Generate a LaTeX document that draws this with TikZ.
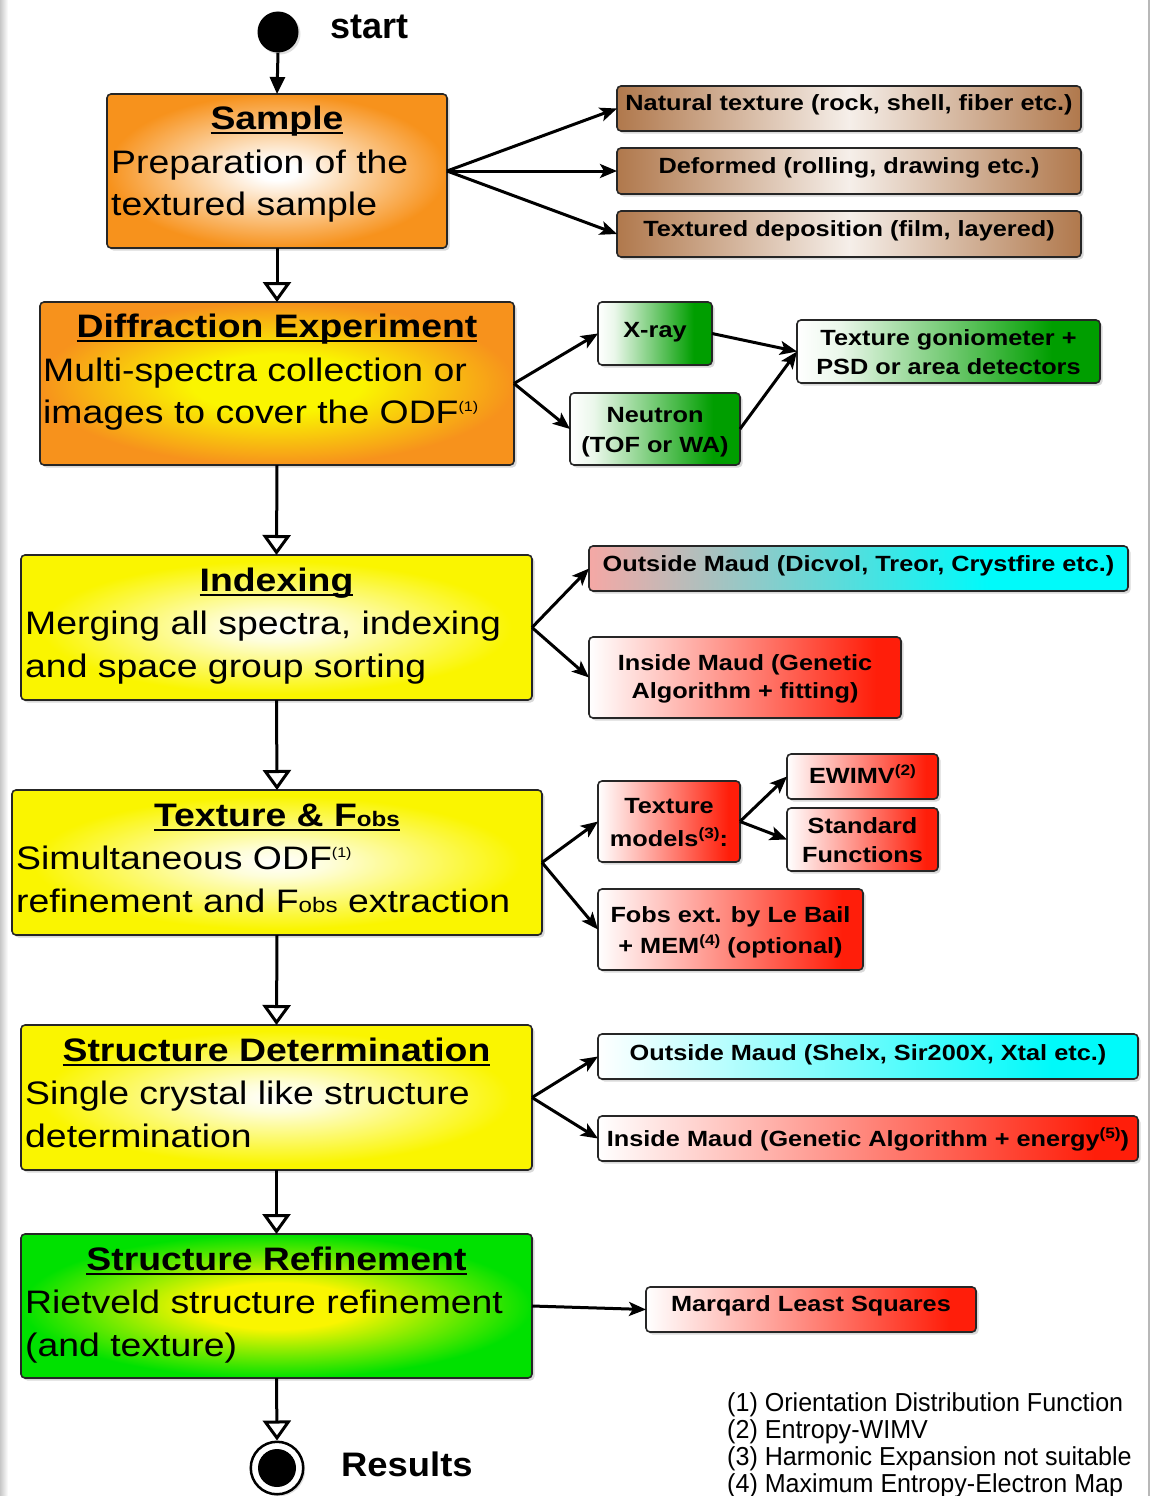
\documentclass[tikz,border=0pt]{standalone}
\usepackage{fontspec}
\setmainfont{Liberation Sans}
\newfontfamily\wideF[FakeStretch=1.15]{Liberation Sans}
\newfontfamily\midF[FakeStretch=1.07]{Liberation Sans}
\newfontfamily\footF[FakeStretch=0.965]{Liberation Sans}
\usetikzlibrary{arrows.meta,shadows,fit}

\definecolor{cOrange}{RGB}{247,146,28}
\definecolor{cYellow}{RGB}{250,245,0}
\definecolor{cGreen}{RGB}{0,225,0}
\definecolor{cDGreen}{RGB}{0,158,0}
\definecolor{cRed}{RGB}{255,30,10}
\definecolor{cCyan}{RGB}{0,250,250}
\definecolor{cBrown}{RGB}{176,120,76}
\definecolor{cPink}{RGB}{245,168,165}

\pgfdeclareradialshading{shSample}{\pgfpointorigin}{color(0bp)=(white); color(3bp)=(white); color(25bp)=(cOrange); color(50bp)=(cOrange)}
\pgfdeclareradialshading{shDiff}{\pgfpointorigin}{color(0bp)=(cYellow); color(9bp)=(cYellow); color(25bp)=(cOrange); color(50bp)=(cOrange)}
\pgfdeclareradialshading{shYel}{\pgfpointorigin}{color(0bp)=(white); color(5bp)=(white!85!cYellow); color(23bp)=(cYellow); color(50bp)=(cYellow)}
\pgfdeclareradialshading{shSR}{\pgfpointorigin}{color(0bp)=(cYellow); color(8bp)=(cYellow); color(25bp)=(cGreen); color(50bp)=(cGreen)}
\pgfdeclarehorizontalshading{shBrown}{100bp}{color(0bp)=(cBrown); color(25bp)=(cBrown); color(50bp)=(white!88!cBrown); color(75bp)=(cBrown); color(100bp)=(cBrown)}
\pgfdeclarehorizontalshading{shGreen}{100bp}{color(0bp)=(white); color(25bp)=(white); color(32bp)=(white!92!cDGreen); color(67bp)=(cDGreen); color(100bp)=(cDGreen)}
\pgfdeclarehorizontalshading{shRed}{100bp}{color(0bp)=(white); color(25bp)=(white); color(71bp)=(cRed); color(100bp)=(cRed)}
\pgfdeclarehorizontalshading{shCyan}{100bp}{color(0bp)=(white); color(25bp)=(white); color(67bp)=(cCyan); color(100bp)=(cCyan)}
\pgfdeclarehorizontalshading{shPinkCyan}{100bp}{color(0bp)=(cPink); color(25bp)=(cPink); color(62bp)=(cCyan); color(100bp)=(cCyan)}

\newcommand\myul[1]{\setbox0=\hbox{#1}\rlap{\rule[-4.8pt]{\wd0}{2.2pt}}\box0}
\newcommand\supA[1]{\raisebox{12pt}{\fontsize{14}{14}\selectfont(#1)}}
\newcommand\supB[1]{\raisebox{8pt}{\fontsize{15}{15}\selectfont(#1)}}

\begin{document}
\begin{tikzpicture}[x=1pt,y=-1pt,
  box/.style={draw=black!85, line width=1.6pt, rounded corners=4pt, inner sep=0pt, outer sep=0pt, shade,
    drop shadow={shadow xshift=2.5pt, shadow yshift=-2.5pt, opacity=0.3}},
  head/.style={font=\wideF\bfseries\fontsize{32.5}{40}\selectfont, inner sep=0pt, anchor=base},
  body/.style={font=\wideF\fontsize{32.5}{40}\selectfont, inner sep=0pt, anchor=base west},
  side/.style={font=\wideF\bfseries\fontsize{22}{28}\selectfont, inner sep=0pt, anchor=base},
  foot/.style={font=\footF\fontsize{26}{30}\selectfont, inner sep=0pt, anchor=base west},
  sarr/.style={line width=3pt, -{Stealth[length=17pt,width=14pt,inset=4pt]}},
  tarr/.style={line width=3pt, -{Triangle[length=17pt,width=15pt]}},
  harr/.style={line width=3pt, -{Triangle[fill=white,length=20pt,width=28pt]}}
]
\useasboundingbox (0,0) rectangle (1151,1496);
\shade[left color=black!22, right color=white] (0,0) rectangle (8,1496);
\fill[black!28] (1148,0) rectangle (1150,1496);

% main boxes
\node[box, shading=shSample, fit={(107,94)(447,248)}] (sample) {};
\node[box, shading=shDiff, fit={(40,302)(514,465)}] (diff) {};
\node[box, shading=shYel, fit={(21,555)(532,700)}] (index) {};
\node[box, shading=shYel, fit={(12,790)(542,935)}] (texture) {};
\node[box, shading=shYel, fit={(21,1025)(532,1170)}] (sd) {};
\node[box, shading=shSR, fit={(21,1234)(532,1378)}] (sr) {};

% side boxes
\node[box, shading=shBrown, fit={(617,86)(1081,131)}] (nat) {};
\node[box, shading=shBrown, fit={(617,148)(1081,194)}] (def) {};
\node[box, shading=shBrown, fit={(617,211)(1081,257)}] (dep) {};
\node[box, shading=shGreen, fit={(598,302)(712,365)}] (xray) {};
\node[box, shading=shGreen, fit={(570,393)(740,465)}] (neutron) {};
\node[box, shading=shGreen, fit={(797,320)(1100,383)}] (gonio) {};
\node[box, shading=shPinkCyan, fit={(589,546)(1128,591)}] (dicvol) {};
\node[box, shading=shRed, fit={(589,637)(901,718)}] (insideI) {};
\node[box, shading=shRed, fit={(598,781)(740,862)}] (tm) {};
\node[box, shading=shRed, fit={(787,754)(938,799)}] (ewimv) {};
\node[box, shading=shRed, fit={(787,808)(938,871)}] (std) {};
\node[box, shading=shRed, fit={(598,889)(863,970)}] (fobs) {};
\node[box, shading=shCyan, fit={(598,1034)(1138,1079)}] (shelx) {};
\node[box, shading=shRed, fit={(598,1116)(1138,1161)}] (insideE) {};
\node[box, shading=shRed, fit={(646,1287)(976,1332)}] (marq) {};

% start and end
\node[circle, fill=black, minimum size=41pt, inner sep=0pt, drop shadow={shadow xshift=2pt, shadow yshift=-2pt, opacity=0.25}] (start) at (278,32) {};
\node[font=\bfseries\fontsize{36}{40}\selectfont, anchor=base west, inner sep=0pt] (startT) at (330,39) {start};
\node[circle, draw=black, line width=2.5pt, fill=white, minimum size=52.5pt, inner sep=0pt, drop shadow={shadow xshift=2pt, shadow yshift=-2pt, opacity=0.25}] (endO) at (277,1468) {};
\node[circle, fill=black, minimum size=38pt, inner sep=0pt] (endI) at (277,1468) {};
\node[font=\midF\bfseries\fontsize{34}{40}\selectfont, anchor=base west, inner sep=0pt] (resT) at (341,1476) {Results};

% vertical flow
\draw[tarr] (start.south) -- (sample.north);
\draw[harr] (sample.south) -- (diff.north);
\draw[harr] (diff.south) -- (index.north);
\draw[harr] (index.south) -- (texture.north);
\draw[harr] (texture.south) -- (sd.north);
\draw[harr] (sd.south) -- (sr.north);
\draw[harr] (sr.south) -- (endO.north);

% side connectors
\draw[sarr] (sample.east) -- (nat.west);
\draw[sarr] (sample.east) -- (def.west);
\draw[sarr] (sample.east) -- (dep.west);
\draw[sarr] (diff.east) -- (xray.west);
\draw[sarr] (diff.east) -- (neutron.west);
\draw[sarr] (xray.east) -- (gonio.west);
\draw[sarr] (neutron.east) -- (gonio.west);
\draw[sarr] (index.east) -- (dicvol.west);
\draw[sarr] (index.east) -- (insideI.west);
\draw[sarr] (texture.east) -- (tm.west);
\draw[sarr] (texture.east) -- (fobs.west);
\draw[sarr] (tm.east) -- (ewimv.west);
\draw[sarr] (tm.east) -- (std.west);
\draw[sarr] (sd.east) -- (shelx.west);
\draw[sarr] (sd.east) -- (insideE.west);
\draw[sarr] (sr.east) -- (marq.west);

% main box texts
\node[head] (sampleH) at (277,129) {\myul{Sample}};
\node[body] (sampleL1) at (111,173) {Preparation of the};
\node[body] (sampleL2) at (111,215) {textured sample};

\node[head] (diffH) at (277,337) {\myul{Diffraction Experiment}};
\node[body] (diffL1) at (43,381) {Multi-spectra collection or};
\node[body] (diffL2) at (43,423) {images to cover the ODF\supA{1}};

\node[head] (indexH) at (276.5,591) {\myul{Indexing}};
\node[body] (indexL1) at (25,634) {Merging all spectra, indexing};
\node[body] (indexL2) at (25,677) {and space group sorting};

\node[head] (texH) at (277,826) {\myul{Texture \& F{\fontsize{21}{21}\selectfont obs}}};
\node[body] (texL1) at (16,869) {Simultaneous ODF\supA{1}};
\node[body] (texL2) at (16,912) {refinement and F{\fontsize{21}{21}\selectfont obs} extraction};

\node[head] (sdH) at (276.5,1061) {\myul{Structure Determination}};
\node[body] (sdL1) at (25,1104) {Single crystal like structure};
\node[body] (sdL2) at (25,1147) {determination};

\node[head] (srH) at (276.5,1270) {\myul{Structure Refinement}};
\node[body] (srL1) at (25,1313) {Rietveld structure refinement};
\node[body] (srL2) at (25,1356) {(and texture)};

% side box texts
\node[side] (natT) at (849,110.5) {Natural texture (rock, shell, fiber etc.)};
\node[side] (defT) at (849,173) {Deformed (rolling, drawing etc.)};
\node[side] (depT) at (849,236) {Textured deposition (film, layered)};
\node[side] (xrayT) at (655,337) {X-ray};
\node[side] (neutronT1) at (655,422.7) {Neutron};
\node[side] (neutronT2) at (655,452) {(TOF or WA)};
\node[side] (gonioT1) at (948.5,345) {Texture goniometer +};
\node[side] (gonioT2) at (948.5,374) {PSD or area detectors};
\node[side] (dicvolT) at (858.5,571) {Outside Maud (Dicvol, Treor, Crystfire etc.)};
\node[side] (insideIT1) at (745,670) {Inside Maud (Genetic};
\node[side] (insideIT2) at (745,698) {Algorithm + fitting)};
\node[side] (tmT1) at (669,813) {Texture};
\node[side] (tmT2) at (669,846) {models\supB{3}:};
\node[side] (ewimvT) at (862.5,783) {EWIMV\supB{2}};
\node[side] (stdT1) at (862.5,833) {Standard};
\node[side] (stdT2) at (862.5,862) {Functions};
\node[side] (fobsT1) at (730.5,922) {Fobs ext. by Le Bail};
\node[side] (fobsT2) at (730.5,953) {+ MEM\supB{4} (optional)};
\node[side] (shelxT) at (868,1060) {Outside Maud (Shelx, Sir200X, Xtal etc.)};
\node[side] (insideET) at (868,1146) {Inside Maud (Genetic Algorithm + energy\supB{5})};
\node[side] (marqT) at (811,1311.5) {Marqard Least Squares};

% footnotes
\node[foot] (fn1) at (727,1411) {(1) Orientation Distribution Function};
\node[foot] (fn2) at (727,1438) {(2) Entropy-WIMV};
\node[foot] (fn3) at (727,1465) {(3) Harmonic Expansion not suitable};
\node[foot] (fn4) at (727,1492) {(4) Maximum Entropy-Electron Map};
\end{tikzpicture}
\end{document}
